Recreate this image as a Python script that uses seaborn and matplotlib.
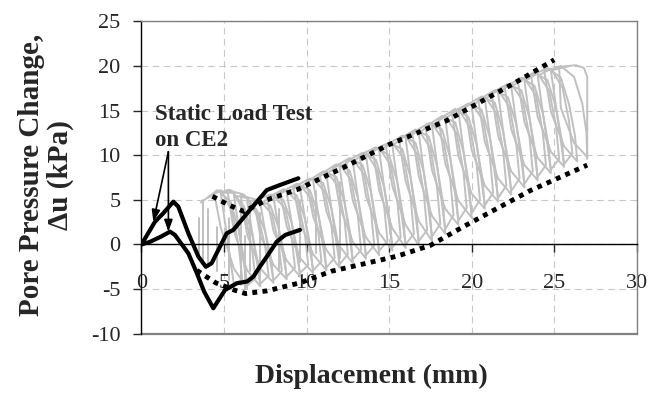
import pandas as pd
import matplotlib.pyplot as plt
import seaborn as sns

# static load test on CE2 (two thick black curves)
static_top_x = [0, 0.82, 1.32, 1.93, 2.23, 2.84, 3.45, 3.9, 4.25, 5.16, 5.56, 6.58, 7.59, 8.39, 9.5]
static_top_y = [0, 2.56, 3.5, 4.8, 4.24, 1.25, -1.37, -2.5, -2.1, 1.25, 1.63, 3.9, 6.1, 6.67, 7.42]
static_bot_x = [0, 0.52, 1.2, 1.73, 2.03, 2.84, 3.35, 3.8, 4.35, 5.06, 5.77, 6.4, 6.78, 7.2, 7.59, 8.19, 8.7, 9.6]
static_bot_y = [0, 0.3, 0.9, 1.44, 1.06, -1.0, -3.2, -5.3, -7.15, -5.1, -4.35, -4.15, -3.6, -2.4, -1.37, 0.3, 1.06, 1.63]

# dotted envelopes
env_top_x = [4.3, 5.2, 6.2, 7.6, 9.5, 12.2, 15.0, 18.5, 22.5, 25.0]
env_top_y = [5.4, 4.5, 3.7, 5.0, 6.2, 8.6, 11.2, 13.9, 18.0, 20.7]
env_bot_x = [3.35, 4.5, 5.6, 6.3, 7.6, 9.6, 11.5, 13.4, 15.5, 17.5, 19.5, 21.0, 23.5, 27.0]
env_bot_y = [-2.9, -4.3, -5.1, -5.5, -5.2, -4.3, -3.0, -2.2, -1.3, -0.1, 2.0, 3.5, 6.0, 8.9]

# cyclic test trace (grey), one row per cycle
gray_x = [3.6, 4.6, 5.4, 5.9, 6.25, 6.4, 5.6, 4.8,
          4.4, 5.4, 6.2, 6.7, 7.05, 7.2, 6.4, 5.6,
          5.2, 6.2, 7.0, 7.5, 7.85, 8.0, 7.2, 6.4,
          6.0, 7.0, 7.8, 8.3, 8.65, 8.8, 8.0, 7.2,
          6.8, 7.8, 8.6, 9.1, 9.45, 9.6, 8.8, 8.0,
          7.6, 8.6, 9.4, 9.9, 10.25, 10.4, 9.6, 8.8,
          8.4, 9.4, 10.2, 10.7, 11.05, 11.2, 10.4, 9.6,
          9.2, 10.2, 11.0, 11.5, 11.85, 12.0, 11.2, 10.4,
          10.0, 11.0, 11.8, 12.3, 12.65, 12.8, 12.0, 11.2,
          10.8, 11.8, 12.6, 13.1, 13.45, 13.6, 12.8, 12.0,
          11.6, 12.6, 13.4, 13.9, 14.25, 14.4, 13.6, 12.8,
          12.4, 13.4, 14.2, 14.7, 15.05, 15.2, 14.4, 13.6,
          13.2, 14.2, 15.0, 15.5, 15.85, 16.0, 15.2, 14.4,
          14.0, 15.0, 15.8, 16.3, 16.65, 16.8, 16.0, 15.2,
          14.8, 15.8, 16.6, 17.1, 17.45, 17.6, 16.8, 16.0,
          15.6, 16.6, 17.4, 17.9, 18.25, 18.4, 17.6, 16.8,
          16.4, 17.4, 18.2, 18.7, 19.05, 19.2, 18.4, 17.6,
          17.2, 18.2, 19.0, 19.5, 19.85, 20.0, 19.2, 18.4,
          18.0, 19.0, 19.8, 20.3, 20.65, 20.8, 20.0, 19.2,
          18.8, 19.8, 20.6, 21.1, 21.45, 21.6, 20.8, 20.0,
          19.6, 20.6, 21.4, 21.9, 22.25, 22.4, 21.6, 20.8,
          20.4, 21.4, 22.2, 22.7, 23.05, 23.2, 22.4, 21.6,
          21.2, 22.2, 23.0, 23.5, 23.85, 24.0, 23.2, 22.4,
          22.0, 23.0, 23.8, 24.3, 24.65, 24.8, 24.0, 23.2,
          22.8, 23.8, 24.6, 25.1, 25.45, 25.6, 24.8, 24.0,
          23.6, 24.6, 25.4, 25.9, 26.25, 26.4, 25.6, 24.8,
          24.4, 25.4, 26.2, 26.7, 26.95, 27.0, 26.2, 25.4,
          25.3, 26.3, 26.8, 27.0, 27.0, 27.0]
gray_y = [4.7, 6.1, 4.8, 1.5, -2.0, -4.9, -2.7, 1.9,
          5.8, 6.1, 4.3, 1.2, -2.0, -4.7, -2.9, 1.5,
          6.1, 5.6, 3.8, 1.4, -1.6, -4.3, -2.7, 1.1,
          5.5, 5.0, 4.4, 1.9, -1.1, -3.9, -2.3, 1.0,
          4.9, 5.6, 5.0, 2.4, -0.7, -3.6, -1.8, 1.5,
          5.2, 6.2, 5.5, 2.9, -0.3, -3.2, -1.5, 2.0,
          5.8, 6.8, 6.1, 3.5, 0.2, -2.9, -1.1, 2.5,
          6.4, 7.4, 6.9, 4.1, 0.7, -2.6, -0.6, 3.1,
          7.0, 8.2, 7.6, 4.7, 1.2, -2.1, -0.2, 3.7,
          7.8, 9.0, 8.3, 5.3, 1.7, -1.6, 0.3, 4.3,
          8.6, 9.7, 8.9, 5.9, 2.2, -1.2, 0.8, 4.9,
          9.3, 10.3, 9.5, 6.4, 2.7, -0.7, 1.3, 5.4,
          10.0, 10.9, 10.0, 7.0, 3.2, -0.4, 1.8, 6.0,
          10.6, 11.4, 10.7, 7.5, 3.6, -0.1, 2.2, 6.5,
          11.1, 12.2, 11.4, 8.1, 4.1, 0.4, 2.6, 7.1,
          11.8, 12.9, 12.1, 8.8, 4.9, 1.2, 3.2, 7.6,
          12.5, 13.6, 12.9, 9.7, 5.8, 2.2, 4.0, 8.3,
          13.2, 14.4, 13.7, 10.4, 6.6, 3.0, 4.9, 9.1,
          14.0, 15.2, 14.3, 11.2, 7.4, 4.0, 5.7, 9.9,
          14.8, 15.8, 15.1, 12.0, 8.3, 4.8, 6.6, 10.6,
          15.5, 16.6, 15.9, 12.7, 9.0, 5.6, 7.4, 11.5,
          16.2, 17.3, 16.5, 13.5, 9.8, 6.4, 8.2, 12.2,
          17.0, 18.0, 17.3, 14.2, 10.5, 7.2, 8.9, 12.9,
          17.6, 18.7, 17.8, 14.8, 11.2, 8.0, 9.7, 13.7,
          18.3, 19.3, 18.4, 15.4, 11.8, 8.7, 10.4, 14.3,
          18.9, 19.8, 18.7, 15.7, 12.3, 9.3, 11.0, 14.9,
          19.4, 20.0, 18.8, 15.8, 12.6, 9.8, 11.4, 15.3,
          19.9, 20.1, 19.8, 18.8, 14.0, 9.6]

# second run of cycles, lying between the first ones
gray2_x = [4.0, 4.8, 5.5, 5.9, 6.1, 5.6,
           4.8, 5.6, 6.3, 6.7, 6.9, 6.4,
           5.6, 6.4, 7.1, 7.5, 7.7, 7.2,
           6.4, 7.2, 7.9, 8.3, 8.5, 8.0,
           7.2, 8.0, 8.7, 9.1, 9.3, 8.8,
           8.0, 8.8, 9.5, 9.9, 10.1, 9.6,
           8.8, 9.6, 10.3, 10.7, 10.9, 10.4,
           9.6, 10.4, 11.1, 11.5, 11.7, 11.2,
           10.4, 11.2, 11.9, 12.3, 12.5, 12.0,
           11.2, 12.0, 12.7, 13.1, 13.3, 12.8,
           12.0, 12.8, 13.5, 13.9, 14.1, 13.6,
           12.8, 13.6, 14.3, 14.7, 14.9, 14.4,
           13.6, 14.4, 15.1, 15.5, 15.7, 15.2,
           14.4, 15.2, 15.9, 16.3, 16.5, 16.0,
           15.2, 16.0, 16.7, 17.1, 17.3, 16.8,
           16.0, 16.8, 17.5, 17.9, 18.1, 17.6,
           16.8, 17.6, 18.3, 18.7, 18.9, 18.4,
           17.6, 18.4, 19.1, 19.5, 19.7, 19.2,
           18.4, 19.2, 19.9, 20.3, 20.5, 20.0,
           19.2, 20.0, 20.7, 21.1, 21.3, 20.8,
           20.0, 20.8, 21.5, 21.9, 22.1, 21.6,
           20.8, 21.6, 22.3, 22.7, 22.9, 22.4,
           21.6, 22.4, 23.1, 23.5, 23.7, 23.2,
           22.4, 23.2, 23.9, 24.3, 24.5, 24.0,
           23.2, 24.0, 24.7, 25.1, 25.3, 24.8,
           24.0, 24.8, 25.5, 25.9, 26.1, 25.6,
           24.8, 25.9]
gray2_y = [5.2, 6.1, 3.7, -0.3, -3.9, -4.5,
           5.8, 5.8, 3.2, -0.5, -3.8, -4.6,
           5.5, 5.2, 2.9, -0.3, -3.5, -4.4,
           4.9, 4.9, 3.4, 0.2, -3.0, -4.0,
           4.6, 5.5, 4.0, 0.7, -2.6, -3.6,
           5.2, 6.1, 4.6, 1.1, -2.3, -3.2,
           5.8, 6.7, 5.1, 1.6, -1.9, -2.9,
           6.4, 7.4, 5.9, 2.2, -1.5, -2.6,
           7.1, 8.2, 6.6, 2.7, -1.1, -2.2,
           7.9, 9.0, 7.2, 3.3, -0.6, -1.7,
           8.7, 9.6, 7.8, 3.8, -0.1, -1.2,
           9.3, 10.3, 8.3, 4.3, 0.4, -0.7,
           10.0, 10.8, 8.9, 4.8, 0.8, -0.3,
           10.5, 11.4, 9.6, 5.3, 1.2, 0.0,
           11.1, 12.2, 10.1, 5.8, 1.6, 0.4,
           11.9, 12.8, 10.8, 6.5, 2.3, 0.9,
           12.5, 13.6, 11.6, 7.4, 3.3, 1.7,
           13.3, 14.4, 12.4, 8.2, 4.1, 2.7,
           14.1, 15.2, 13.1, 9.0, 5.0, 3.5,
           14.9, 15.8, 13.9, 9.9, 5.8, 4.4,
           15.5, 16.6, 14.7, 10.6, 6.6, 5.2,
           16.3, 17.3, 15.4, 11.3, 7.4, 6.0,
           17.0, 18.0, 16.1, 12.1, 8.2, 6.8,
           17.7, 18.6, 16.7, 12.7, 8.9, 7.6,
           18.3, 19.2, 17.2, 13.4, 9.6, 8.4,
           18.9, 19.7, 17.6, 13.8, 10.2, 9.0,
           19.5, 20.0]

# sudden vertical jumps in the early cycles
spike_x = [3.5, 3.7, 4.0, 4.6, 5.3, 6.0, 6.3, 6.6, 7.2, 8.3, 9.6, 10.6, 12.0]
spike_lo = [-1.5, -2.0, -2.5, -3.0, -4.0, -4.5, -5.0, -3.0, -4.0, -3.0, -2.0, -1.0, -1.5]
spike_hi = [3.0, 5.0, 4.0, 2.0, 3.0, 4.0, 1.0, 4.5, 3.5, 4.0, 5.0, 6.0, 7.0]

x_ticks = [0, 5, 10, 15, 20, 25, 30]
y_ticks = [-10, -5, 0, 5, 10, 15, 20, 25]

sns.set_style('white')
plt.rcParams['font.family'] = ['Liberation Serif', 'DejaVu Serif']
plt.rcParams['axes.unicode_minus'] = False

fig, ax = plt.subplots(figsize=(6.52, 4.03), dpi=100)
fig.subplots_adjust(left=0.217, right=0.9766, top=0.9467, bottom=0.172)

grey = '#c0c0c0'
sns.lineplot(x=gray_x, y=gray_y, sort=False, estimator=None, color=grey, lw=1.4, ax=ax, zorder=2)
sns.lineplot(x=gray2_x, y=gray2_y, sort=False, estimator=None, color=grey, lw=1.4, ax=ax, zorder=2)

spikes = pd.DataFrame({
    'seg': list(range(len(spike_x))) * 2,
    'x': spike_x + spike_x,
    'y': spike_lo + spike_hi,
})
sns.lineplot(data=spikes, x='x', y='y', units='seg', estimator=None, sort=False,
             color=grey, lw=1.4, ax=ax, zorder=2)

dots = dict(color='black', lw=3.5, linestyle=(0, (1, 1.1)), dash_capstyle='butt', zorder=4)
sns.lineplot(x=env_top_x, y=env_top_y, sort=False, estimator=None, ax=ax, **dots)
sns.lineplot(x=env_bot_x, y=env_bot_y, sort=False, estimator=None, ax=ax, **dots)

sns.lineplot(x=static_top_x, y=static_top_y, sort=False, estimator=None, color='black', lw=3.0, ax=ax, zorder=5)
sns.lineplot(x=static_bot_x, y=static_bot_y, sort=False, estimator=None, color='black', lw=3.0, ax=ax, zorder=5)

# annotation
ax.text(0.82, 13.1, 'Static Load Test\non CE2', fontsize=16.5, fontweight='bold',
        ha='left', va='center', linespacing=1.35, zorder=6)
arrow = dict(arrowstyle='-|>,head_length=0.7,head_width=0.25', color='black', lw=1.2,
             mutation_scale=10, shrinkA=0, shrinkB=0)
ax.annotate('', xy=(0.72, 2.56), xytext=(1.63, 10.4), arrowprops=arrow, zorder=6)
ax.annotate('', xy=(1.63, 1.44), xytext=(1.63, 10.4), arrowprops=arrow, zorder=6)

ax.set_xlim(0, 30)
ax.set_ylim(-10, 25)
ax.set_xticks(x_ticks)
ax.set_yticks(y_ticks)
ax.grid(True, color='#c8c8c8', linestyle=(0, (6, 4)), lw=0.8)
ax.set_axisbelow(True)

ax.spines['bottom'].set_position(('data', 0))
ax.spines['bottom'].set_color('black')
ax.spines['left'].set_color('black')
ax.spines['top'].set_color('#808080')
ax.spines['right'].set_color('#808080')
for s in ax.spines.values():
    s.set_linewidth(1.0)
ax.axhline(-10, color='#808080', lw=1.6, clip_on=False, zorder=1)

ax.tick_params(axis='x', direction='out', length=6, width=1, pad=15, labelsize=16, bottom=True)
ax.tick_params(axis='y', direction='out', length=6, width=1, pad=9, labelsize=16, left=True)

ax.set_xlabel('Displacement (mm)', fontsize=20, fontweight='bold')
ax.set_ylabel('Pore Pressure Change,\n\u0394u (kPa)', fontsize=21, fontweight='bold', linespacing=1.1)
ax.xaxis.set_label_coords(0.465, -0.097)
ax.yaxis.set_label_coords(-0.136, 0.508)

plt.savefig('out.png', dpi=100)
plt.close()
